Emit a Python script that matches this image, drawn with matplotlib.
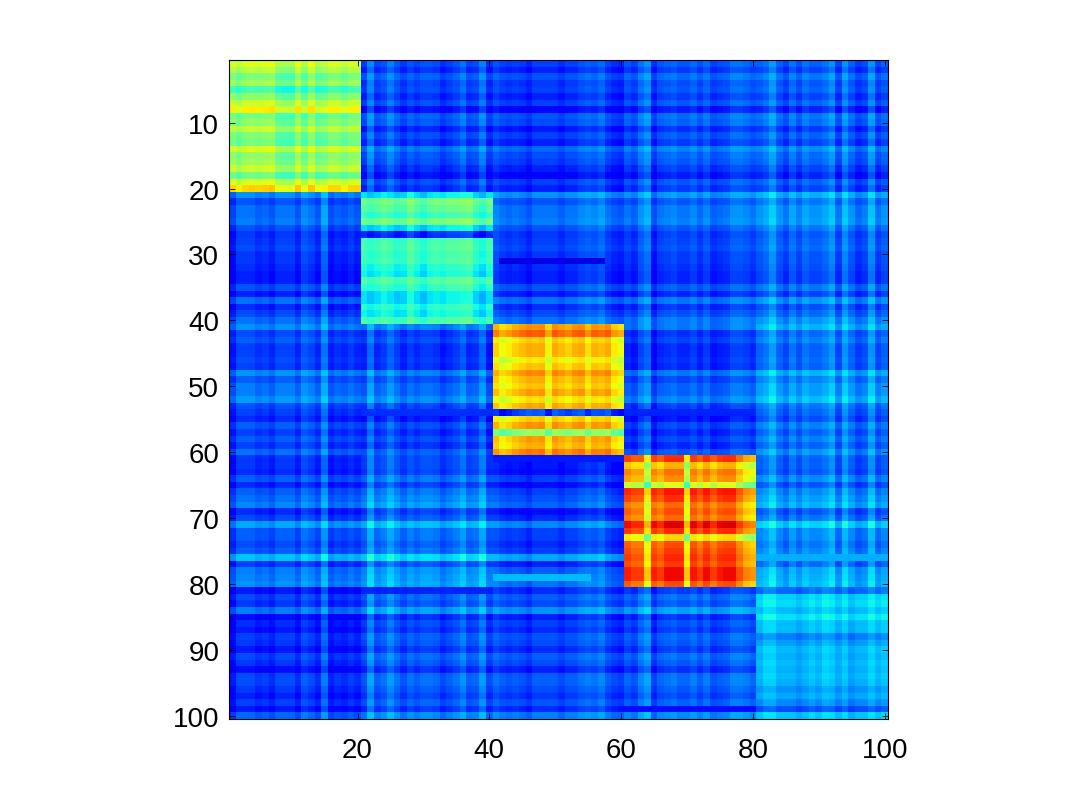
import numpy as np
import matplotlib
matplotlib.use("Agg")
import matplotlib.pyplot as plt

plt.rcParams['font.family'] = ['Liberation Sans', 'DejaVu Sans']

# Typical level of each row inside its diagonal block (estimated by eye)
diag_row = [
 .58,.54,.47,.51,.40,.49,.56,.62,.46,.49,.55,.47,.46,.58,.49,.51,.56,.45,.58,.65,
 .35,.49,.46,.42,.49,.35,.17,.43,.44,.42,.43,.39,.37,.45,.41,.35,.35,.40,.37,.44,
 .72,.78,.66,.69,.69,.63,.67,.73,.69,.67,.71,.64,.70,.18,.66,.72,.50,.71,.69,.75,
 .81,.67,.74,.71,.57,.84,.81,.75,.78,.75,.87,.82,.63,.78,.80,.82,.80,.85,.85,.78,
 .23,.33,.34,.31,.35,.31,.31,.25,.28,.31,.30,.31,.30,.31,.30,.27,.29,.26,.20,.32]
# Column deviation inside the diagonal block
diag_col = [
 .03,.00,.03,.04,.03,.04,.05,-.02,-.03,-.03,.05,-.02,.05,-.02,.00,.03,.03,.00,.03,.03,
 .00,-.03,-.01,.02,.00,-.03,-.02,.03,-.01,-.04,.00,.01,.00,.02,.02,.03,.04,-.02,-.05,.00,
 .00,-.05,-.03,.00,.02,.04,.03,.04,-.04,.04,.02,.00,.03,.04,-.02,.03,.02,.04,-.03,-.05,
 .03,.00,.00,-.15,.03,.00,.05,.05,.05,-.15,.04,.00,.05,.00,.04,.05,.05,-.02,-.08,-.10,
 .00,.03,.03,.00,.00,.00,-.02,.00,.02,.00,.03,.02,-.01,.02,-.02,.00,.00,.03,.00,.02]
# Deviation of each row and column outside the diagonal blocks
off_row = [
 .00,-.03,.02,-.01,.00,-.03,.00,-.06,.02,.01,-.04,.00,-.03,.04,.01,.00,-.03,-.06,.00,-.03,
 .06,.00,.03,.03,.04,.00,-.03,-.02,-.01,-.03,-.03,-.04,-.05,-.05,.00,-.05,.03,-.04,-.01,.03,
 .05,-.02,.00,-.03,-.03,-.02,-.03,.05,.00,.03,.03,.06,-.01,-.03,-.05,.00,-.03,.00,-.03,.02,
 -.04,-.04,-.05,.00,-.05,.00,.02,.04,-.05,-.02,.07,.00,.00,-.02,.00,.10,-.03,.03,.04,.05,
 -.05,.00,-.02,.05,-.06,-.03,-.05,-.01,-.02,-.05,.00,-.02,-.06,.00,.00,-.02,-.04,-.01,-.05,.03]
off_col = [
 -.05,.00,.00,.00,-.02,-.01,-.03,.00,.00,.00,-.03,.02,.00,-.03,.05,-.04,-.02,-.03,-.01,-.03,
 -.03,.05,-.02,.00,.04,.00,-.03,.00,-.02,.00,.00,-.01,-.04,-.02,.00,.03,-.02,-.01,.04,-.04,
 .02,.00,-.01,.00,-.01,-.03,.00,.00,.00,.00,-.02,.00,.00,.02,.03,.02,.04,.00,-.02,-.03,
 .00,-.02,.03,.06,-.04,.00,.01,.02,.00,.00,.02,-.01,.02,-.02,-.01,.00,.03,.03,.02,.00,
 .00,.02,.06,.00,-.03,.02,-.02,.02,.00,.00,.02,.05,-.03,.05,.00,-.04,-.02,.05,-.03,.00]
# Mean background level for each pair of groups
off_base = [
 [.00,.21,.19,.21,.22],
 [.21,.00,.21,.21,.24],
 [.22,.21,.00,.19,.25],
 [.22,.25,.19,.00,.26],
 [.20,.24,.22,.23,.00]]
# Visible streaks: row, first column, last column, level
streaks = [(31,42,57,.09),(79,41,55,.31),(54,21,40,.17),(54,61,80,.16),
           (61,41,60,.15),(81,21,40,.16),(99,61,80,.14),(76,81,100,.30)]
x_ticks = [20,40,60,80,100]
y_ticks = [10,20,30,40,50,60,70,80,90,100]

n = len(diag_row)
matrix = np.zeros((n, n))
for i in range(n):
    for j in range(n):
        gi, gj = i // 20, j // 20
        if gi == gj:
            matrix[i, j] = diag_row[i] + diag_col[j]
        else:
            matrix[i, j] = off_base[gi][gj] + off_row[i] + off_col[j]
for r, c0, c1, v in streaks:
    matrix[r-1, c0-1:c1] = v
matrix = np.clip(matrix, 0, 1)

fig = plt.figure(figsize=(10.8, 8.12), dpi=100)
ax = fig.add_axes([229/1080, (812-720)/812, 659/1080, 659/812])
ax.imshow(matrix, cmap='jet', vmin=0, vmax=1, interpolation='nearest',
          extent=(0.5, n+0.5, n+0.5, 0.5), aspect='equal')
ax.set_xticks(x_ticks)
ax.set_yticks(y_ticks)
ax.tick_params(direction='in', length=4.5, width=0.6, top=True, right=True,
               labelsize=20)
ax.tick_params(axis='x', pad=13)
ax.tick_params(axis='y', pad=7)
for s in ax.spines.values():
    s.set_linewidth(0.8)
fig.savefig('out.png', dpi=100)
